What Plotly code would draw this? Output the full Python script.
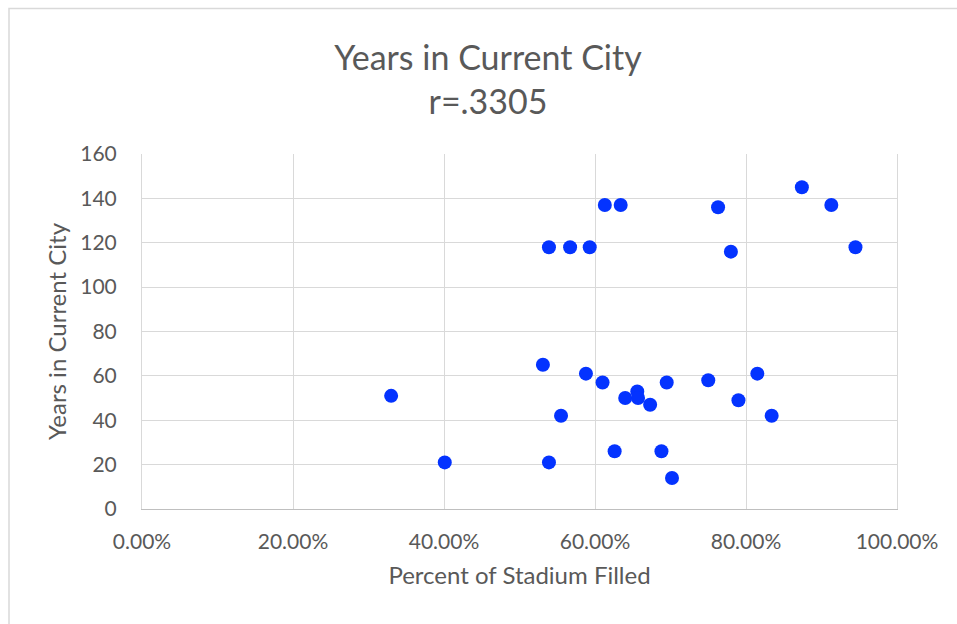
import plotly.graph_objects as go

# Data
percent_filled = [0.330, 0.401, 0.531, 0.539, 0.539, 0.555, 0.567, 0.588, 0.593,
                  0.610, 0.613, 0.626, 0.634, 0.640, 0.656, 0.657, 0.673, 0.688,
                  0.695, 0.702, 0.750, 0.763, 0.780, 0.790, 0.815, 0.834, 0.874,
                  0.913, 0.945]
years_in_city = [51, 21, 65, 118, 21, 42, 118, 61, 118,
                 57, 137, 26, 137, 50, 53, 50, 47, 26,
                 57, 14, 58, 136, 116, 49, 61, 42, 145,
                 137, 118]

x_ticks = [0, 0.2, 0.4, 0.6, 0.8, 1.0]
y_ticks = [0, 20, 40, 60, 80, 100, 120, 140, 160]

title_text = "Years in Current City<br>r=.3305"
x_title = "Percent of Stadium Filled"
y_title = "Years in Current City"

FONT = "Lato, 'Open Sans', sans-serif"
GRAY = "#595959"
GRID = "#d9d9d9"

fig = go.Figure()
fig.add_trace(go.Scatter(
    x=percent_filled, y=years_in_city, mode="markers",
    marker=dict(size=14, color="#0433ff", line=dict(width=0)),
    showlegend=False,
))

fig.update_layout(
    width=957, height=624,
    margin=dict(l=142, r=60, t=154, b=115),
    paper_bgcolor="white", plot_bgcolor="white",
    font=dict(family=FONT, color=GRAY),
    title=dict(text=title_text, x=488 / 957, xanchor="center",
               yref="container", y=1 - 70 / 624, yanchor="middle",
               font=dict(size=34, color=GRAY, family=FONT)),
    xaxis=dict(range=[0, 1.0], tickvals=x_ticks, tickformat=".2%",
               showgrid=True, gridcolor=GRID, gridwidth=1,
               zeroline=False, showline=True, linecolor="#bfbfbf", linewidth=1,
               ticks="", ticklabelstandoff=14,
               tickfont=dict(size=21, color=GRAY, family=FONT),
               title=dict(text=x_title, standoff=14,
                          font=dict(size=24, color=GRAY, family=FONT))),
    yaxis=dict(range=[0, 160], tickvals=y_ticks,
               showgrid=True, gridcolor=GRID, gridwidth=1,
               zeroline=False, showline=True, linecolor=GRID, linewidth=1,
               mirror=True, ticks="", ticklabelstandoff=20,
               tickfont=dict(size=21, color=GRAY, family=FONT),
               title=dict(text=y_title, standoff=6,
                          font=dict(size=24, color=GRAY, family=FONT))),
)

# outer chart border (light gray), extends past the right and bottom edges
fig.add_shape(type="rect", xref="paper", yref="paper",
              x0=(9 - 142) / 755, x1=(975 - 142) / 755,
              y0=(509 - 640) / 355, y1=1 + (154 - 8.5) / 355,
              line=dict(color="#d9d9d9", width=1.5), fillcolor="rgba(0,0,0,0)",
              layer="below")

fig.write_html("out.html")
